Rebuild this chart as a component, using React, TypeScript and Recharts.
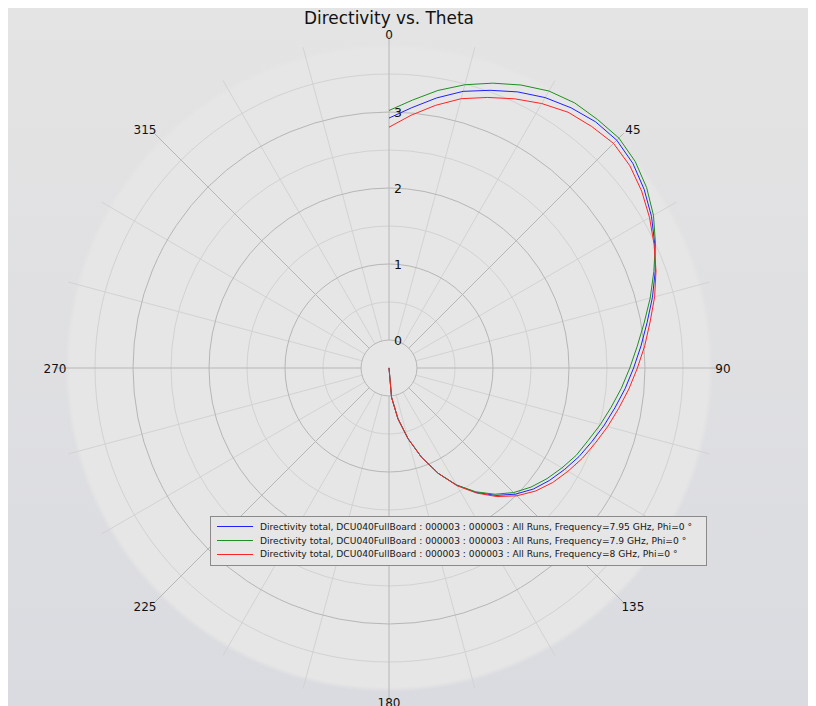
import React from "react";
import { RadarChart, Radar, PolarGrid, PolarAngleAxis, PolarRadiusAxis, Legend } from "recharts";

// theta in degrees, directivity values
const THETA = [0, 5, 10, 15, 20, 25, 30, 35, 40, 45, 50, 55, 60, 65, 70, 75, 80, 85, 90, 95, 100, 105, 110, 115, 120, 125, 130, 135, 140, 145, 150, 155, 160, 165, 170, 175, 180];

const BLUE = [2.92, 3.07, 3.24, 3.4, 3.52, 3.64, 3.74, 3.81, 3.86, 3.87, 3.82, 3.73, 3.62, 3.49, 3.36, 3.22, 3.08, 2.96, 2.85, 2.75, 2.65, 2.56, 2.47, 2.39, 2.3, 2.21, 2.11, 1.98, 1.82, 1.63, 1.41, 1.16, 0.88, 0.59, 0.31, 0.02, -0.37];
const GREEN = [3.02, 3.17, 3.34, 3.49, 3.62, 3.74, 3.84, 3.89, 3.9, 3.91, 3.86, 3.77, 3.65, 3.5, 3.34, 3.19, 3.04, 2.91, 2.8, 2.7, 2.6, 2.51, 2.42, 2.35, 2.26, 2.17, 2.07, 1.95, 1.8, 1.62, 1.41, 1.16, 0.88, 0.59, 0.31, 0.02, -0.37];
const RED = [2.8, 2.97, 3.14, 3.3, 3.42, 3.54, 3.65, 3.74, 3.78, 3.81, 3.77, 3.69, 3.59, 3.48, 3.37, 3.25, 3.12, 3.01, 2.9, 2.8, 2.7, 2.61, 2.52, 2.44, 2.35, 2.26, 2.15, 2.01, 1.84, 1.64, 1.42, 1.16, 0.88, 0.59, 0.31, 0.02, -0.37];

const NAMES = [
  "Directivity total, DCU040FullBoard : 000003 : 000003 : All Runs, Frequency=7.95 GHz, Phi=0 °",
  "Directivity total, DCU040FullBoard : 000003 : 000003 : All Runs, Frequency=7.9 GHz, Phi=0 °",
  "Directivity total, DCU040FullBoard : 000003 : 000003 : All Runs, Frequency=8 GHz, Phi=0 °",
];
const COLORS = ["#2020ff", "#1f8f1f", "#ff2424"];

const ANGLE_TICKS = [0, 45, 90, 135, 180, 225, 270, 315];
const RADIUS_TICKS = [0, 1, 2, 3];
const RADIUS_MINOR = [0.5, 1.5, 2.5, 3.5];

const data = THETA.map((t, i) => ({ theta: t, blue: BLUE[i], green: GREEN[i], red: RED[i] }));

const W = 808;
const H = 698;
const CX = 381;
const CY = 360;
const INNER = 28;
const OUTER = 332;
const R_MAX = 4;
const FONT = "'DejaVu Sans', Verdana, sans-serif";

const rPx = (v: number) => INNER + (v * (OUTER - INNER)) / R_MAX;

const minorAngles: number[] = [];
const majorAngles: number[] = [];
for (let a = 0; a < 360; a += 15) (a % 45 === 0 ? majorAngles : minorAngles).push(a);

// open polyline instead of a closed polygon
const OpenCurve = (props: any) => {
  const pts = (props.points || []).filter((p: any) => p && Number.isFinite(p.x) && Number.isFinite(p.y));
  const d = pts.map((p: any, i: number) => `${i ? "L" : "M"}${p.x},${p.y}`).join(" ");
  return <path d={d} fill="none" stroke={props.stroke} strokeWidth={1} />;
};

const AngleTick = (props: any) => {
  const a = ((props.payload.coordinate || 0) * Math.PI) / 180;
  const diag = Math.abs(Math.sin(2 * a));
  return (
    <text
      x={props.x + 11 * diag * Math.cos(a)}
      y={props.y - 2.8 * diag * Math.sin(a) + 0.5}
      textAnchor="middle"
      dominantBaseline="central"
      fontSize={12}
      fontFamily={FONT}
      fill="#111"
    >
      {props.payload.value}
    </text>
  );
};

const RadiusTick = (props: any) => (
  <text x={props.x + 9} y={props.y} textAnchor="middle" dominantBaseline="central" fontSize={12.5} fontFamily={FONT} fill="#111">
    {props.payload.value}
  </text>
);

const LegendBox = (props: any) => {
  const payload = props.payload || [];
  return (
    <div style={{ border: "1px solid #8a8a8a", background: "#e6e6e6", padding: "3px 0 4px 6px", boxSizing: "border-box" }}>
      {payload.map((p: any) => (
        <div key={p.value} style={{ display: "flex", alignItems: "center", height: 13.7, fontFamily: FONT, fontSize: 9.15, color: "#161616", whiteSpace: "nowrap" }}>
          <span style={{ display: "inline-block", width: 36, height: 1, background: p.color, marginRight: 7 }} />
          {p.value}
        </div>
      ))}
    </div>
  );
};

export default function App() {
  return (
    <div
      style={{
        position: "relative",
        width: W,
        height: H,
        overflow: "hidden",
        background: `radial-gradient(circle at ${CX}px ${CY}px, #e6e6e6 0px, #e6e6e6 319px, rgba(230,230,230,0) 324px), linear-gradient(#e4e4e4, #dadbe0)`,
      }}
    >
      <style>{"body{overflow:hidden}"}</style>
      <div style={{ position: "absolute", top: 0, left: CX - 200, width: 400, textAlign: "center", fontFamily: FONT, fontSize: 16.9, lineHeight: "20px", color: "#111" }}>
        Directivity vs. Theta
      </div>
      <RadarChart width={W} height={H} data={data} cx={CX} cy={CY} innerRadius={INNER} outerRadius={OUTER} margin={{ top: 0, right: 0, bottom: 0, left: 0 }}>
        <PolarGrid gridType="circle" polarAngles={minorAngles} polarRadius={RADIUS_MINOR.map(rPx)} stroke="#d2d2d2" strokeWidth={1} />
        <PolarGrid gridType="circle" polarAngles={majorAngles} polarRadius={RADIUS_TICKS.map(rPx)} stroke="#b6b6b6" strokeWidth={1} />
        <PolarAngleAxis dataKey="theta" type="number" domain={[0, 360]} ticks={ANGLE_TICKS} axisLine={false} tickLine={false} tickSize={2} tick={<AngleTick />} />
        <PolarRadiusAxis angle={90} type="number" domain={[0, R_MAX]} allowDataOverflow ticks={RADIUS_TICKS} axisLine={false} tickLine={false} tick={<RadiusTick />} />
        <Radar name={NAMES[0]} dataKey="blue" stroke={COLORS[0]} fill="none" shape={<OpenCurve />} isAnimationActive={false} />
        <Radar name={NAMES[1]} dataKey="green" stroke={COLORS[1]} fill="none" shape={<OpenCurve />} isAnimationActive={false} />
        <Radar name={NAMES[2]} dataKey="red" stroke={COLORS[2]} fill="none" shape={<OpenCurve />} isAnimationActive={false} />
        <Legend content={<LegendBox />} itemSorter="dataKey" wrapperStyle={{ position: "absolute", left: 202, top: 508, width: 497, bottom: "auto" }} />
      </RadarChart>
    </div>
  );
}
